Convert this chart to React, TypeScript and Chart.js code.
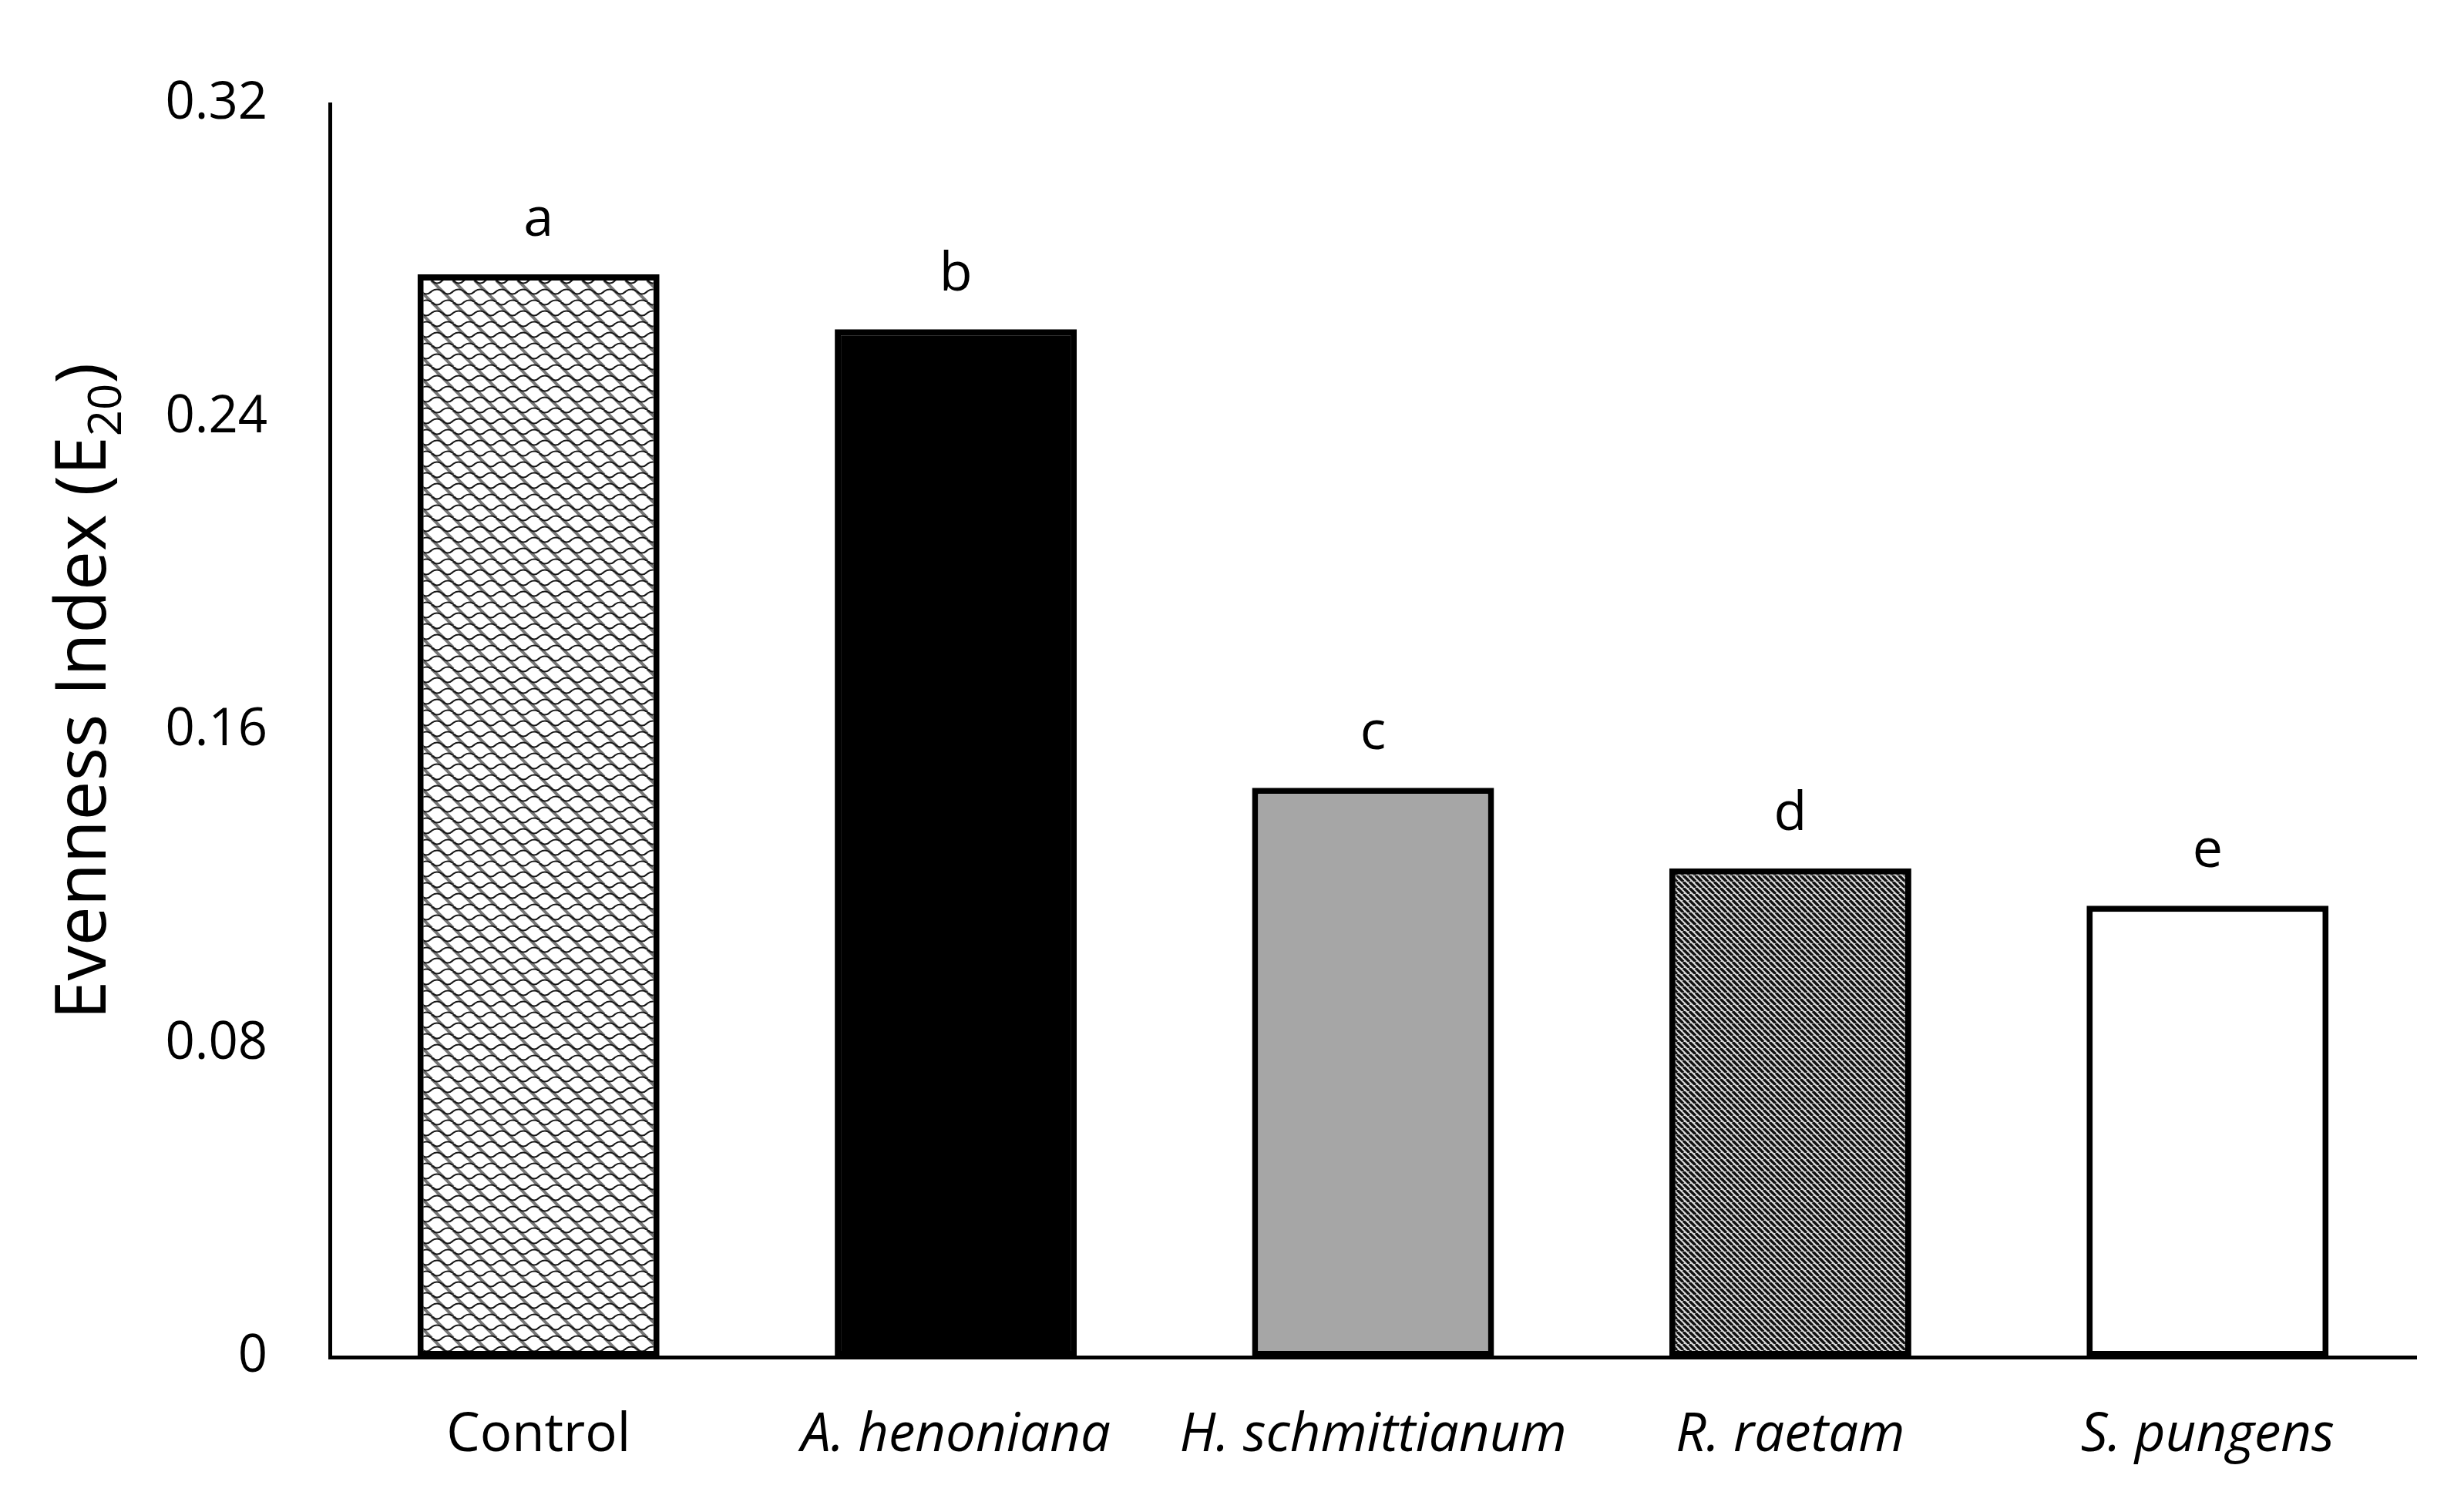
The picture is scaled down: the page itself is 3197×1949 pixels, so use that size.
import React, { useEffect, useRef } from 'react';
import { Chart, registerables } from 'chart.js';
Chart.register(...registerables);

const categories = ['Control', 'A. henoniana', 'H. schmittianum', 'R. raetam', 'S. pungens'];
const values = [0.2765, 0.2625, 0.1454, 0.1248, 0.1153];
const letters = ['a', 'b', 'c', 'd', 'e'];
const yMin = 0;
const yMax = 0.32;
const yStep = 0.08;
const yTitleMain = 'Evenness Index (E';
const yTitleSub = '20';
const yTitleEnd = ')';

const FONT = '"Open Sans"';

function shinglePattern(ctx: CanvasRenderingContext2D) {
  const c = document.createElement('canvas');
  c.width = 28;
  c.height = 28;
  const g = c.getContext('2d')!;
  g.fillStyle = '#ffffff';
  g.fillRect(0, 0, 28, 28);
  g.strokeStyle = '#767676';
  g.lineWidth = 4;
  for (const off of [-28, 0, 28]) {
    g.beginPath();
    g.moveTo(off, 0);
    g.lineTo(off + 28, 28);
    g.stroke();
  }
  g.strokeStyle = '#151515';
  g.lineWidth = 2;
  const rows: Array<[number, number]> = [
    [0, 0],
    [14, 14],
    [28, 0],
  ];
  for (const [yy, shift] of rows) {
    for (const base of [-28, 0, 28]) {
      const xx = base + shift;
      g.beginPath();
      g.moveTo(xx, yy);
      g.quadraticCurveTo(xx + 7, yy + 7, xx + 14, yy);
      g.quadraticCurveTo(xx + 21, yy - 5, xx + 28, yy);
      g.stroke();
    }
  }
  return ctx.createPattern(c, 'repeat')!;
}

function diagPattern(ctx: CanvasRenderingContext2D) {
  const c = document.createElement('canvas');
  c.width = 8;
  c.height = 8;
  const g = c.getContext('2d')!;
  g.fillStyle = '#d8d8d8';
  g.fillRect(0, 0, 8, 8);
  g.strokeStyle = '#111111';
  g.lineWidth = 3.4;
  for (const off of [-8, 0, 8]) {
    g.beginPath();
    g.moveTo(off, 0);
    g.lineTo(off + 8, 8);
    g.stroke();
  }
  return ctx.createPattern(c, 'repeat')!;
}

const lettersPlugin = {
  id: 'letters',
  afterDatasetsDraw(chart: any) {
    const ctx = chart.ctx;
    const meta = chart.getDatasetMeta(0);
    ctx.save();
    ctx.fillStyle = '#000';
    ctx.font = `70px ${FONT}`;
    ctx.textAlign = 'center';
    ctx.textBaseline = 'alphabetic';
    meta.data.forEach((bar: any, i: number) => {
      ctx.fillText(letters[i], bar.x, bar.y - 50);
    });
    ctx.restore();
  },
};

const yTitlePlugin = {
  id: 'ytitle',
  afterDraw(chart: any) {
    const ctx = chart.ctx;
    ctx.save();
    ctx.fillStyle = '#000';
    ctx.translate(137, 897);
    ctx.rotate(-Math.PI / 2);
    ctx.textBaseline = 'alphabetic';
    ctx.textAlign = 'left';
    const mainFont = `91px ${FONT}`;
    const subFont = `60px ${FONT}`;
    ctx.font = mainFont;
    const wMain = ctx.measureText(yTitleMain).width;
    const wEnd = ctx.measureText(yTitleEnd).width;
    ctx.font = subFont;
    const wSub = ctx.measureText(yTitleSub).width;
    const total = wMain + wSub + wEnd;
    let x = -total / 2;
    ctx.font = mainFont;
    ctx.fillText(yTitleMain, x, 0);
    x += wMain;
    ctx.font = subFont;
    ctx.fillText(yTitleSub, x, 20);
    x += wSub;
    ctx.font = mainFont;
    ctx.fillText(yTitleEnd, x, 0);
    ctx.restore();
  },
};

export default function App() {
  const ref = useRef<HTMLCanvasElement | null>(null);

  useEffect(() => {
    document.body.style.margin = '0';
    const canvas = ref.current!;
    const ctx = canvas.getContext('2d')!;
    const fills = [shinglePattern(ctx), '#000000', '#a6a6a6', diagPattern(ctx), '#ffffff'];
    const chart = new Chart(canvas, {
      type: 'bar',
      data: {
        labels: categories,
        datasets: [
          {
            data: values,
            backgroundColor: fills as any,
            borderColor: '#000000',
            borderWidth: 8,
            borderSkipped: false,
            categoryPercentage: 1,
            barPercentage: 0.58,
          },
        ],
      },
      options: {
        animation: false,
        responsive: false,
        devicePixelRatio: 1,
        layout: { padding: { left: 0, right: 62, top: 135, bottom: 0 } },
        plugins: {
          legend: { display: false },
          tooltip: { enabled: false },
          title: { display: false },
        },
        scales: {
          x: {
            grid: { display: false, drawTicks: false },
            border: { display: true, color: '#000', width: 5 },
            ticks: {
              color: '#000',
              padding: 61,
              maxRotation: 0,
              autoSkip: false,
              font: (c: any) => ({ family: FONT, size: 69, style: c.index === 0 ? 'normal' : 'italic' }),
            },
            afterFit: (s: any) => {
              s.height = 1949 - 1761;
            },
          },
          y: {
            min: yMin,
            max: yMax,
            grid: { display: false, drawTicks: false },
            border: { display: true, color: '#000', width: 5 },
            ticks: {
              stepSize: yStep,
              color: '#000',
              padding: 81,
              font: { family: FONT, size: 67 },
              callback: (v: any) => (Math.abs(v) < 1e-9 ? '0' : Number(v).toFixed(2)),
            },
            afterFit: (s: any) => {
              s.width = 428;
            },
          },
        },
      },
      plugins: [lettersPlugin, yTitlePlugin],
    });
    return () => chart.destroy();
  }, []);

  return (
    <div style={{ width: 3197, height: 1949, background: '#fff' }}>
      <canvas ref={ref} width={3197} height={1949} style={{ display: 'block', width: 3197, height: 1949 }} />
    </div>
  );
}
